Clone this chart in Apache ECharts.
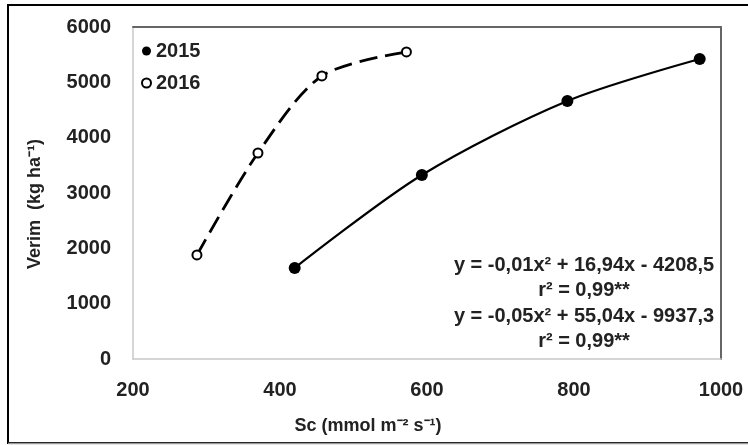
<!DOCTYPE html>
<html>
<head>
<meta charset="utf-8">
<script src="https://cdn.jsdelivr.net/npm/echarts@6/dist/echarts.min.js"></script>
<style>
  html, body { margin: 0; padding: 0; background: #fff; }
  #main { width: 748px; height: 445px; }
</style>
</head>
<body>
<div id="main"></div>
<script>
// valores
var sc2015 = [420, 593, 791, 971];
var verim2015 = [1645, 3325, 4663, 5422];
var sc2016 = [287, 370, 457, 572];
var verim2016 = [1880, 3723, 5115, 5549];
var eqLines = ['y = -0,01x² + 16,94x - 4208,5', 'r² = 0,99**', 'y = -0,05x² + 55,04x - 9937,3', 'r² = 0,99**'];

var fonte = '"Liberation Sans", Arial, sans-serif';

function pares(xs, ys) {
    return xs.map(function (x, i) { return [x, ys[i]]; });
}

var chart = echarts.init(document.getElementById('main'));
chart.setOption({
    backgroundColor: '#fff',
    animation: false,
    grid: { left: 133, right: 27, top: 27, bottom: 86 },
    legend: {
        orient: 'vertical',
        left: 136,
        top: 35,
        itemWidth: 9,
        itemHeight: 9,
        itemGap: 10,
        selectedMode: false,
        textStyle: { fontFamily: fonte, fontWeight: 'bold', fontSize: 20, color: '#222', lineHeight: 22 },
        data: [{ name: '2015', icon: 'circle' }, { name: '2016', icon: 'circle' }]
    },
    xAxis: [{
        type: 'value',
        min: 200, max: 1000, interval: 200,
        name: 'Sc (mmol m⁻² s⁻¹)',
        nameLocation: 'middle',
        nameGap: 58,
        nameTextStyle: { fontFamily: fonte, fontWeight: 'bold', fontSize: 18, color: '#222', padding: [0, 118, 0, 0] },
        axisLine: { lineStyle: { color: '#c8c8c8', width: 1.5 } },
        axisTick: { show: false },
        splitLine: { show: false },
        axisLabel: { fontFamily: fonte, fontWeight: 'bold', fontSize: 20, color: '#222', margin: 21,
            formatter: function (v) { return String(v); } }
    }, {
        type: 'value', position: 'top',
        min: 200, max: 1000,
        axisLine: { show: true, onZero: false, lineStyle: { color: '#666', width: 2 } },
        axisTick: { show: false }, axisLabel: { show: false }, splitLine: { show: false }
    }],
    yAxis: [{
        type: 'value',
        min: 0, max: 6000, interval: 1000,
        axisLine: { show: true, lineStyle: { color: '#c8c8c8', width: 1.5 } },
        axisTick: { show: false },
        splitLine: { show: false },
        axisLabel: { fontFamily: fonte, fontWeight: 'bold', fontSize: 20, color: '#222', margin: 22,
            formatter: function (v) { return String(v); } }
    }, {
        type: 'value', position: 'right',
        min: 0, max: 6000,
        axisLine: { show: true, onZero: false, lineStyle: { color: '#666', width: 2 } },
        axisTick: { show: false }, axisLabel: { show: false }, splitLine: { show: false }
    }],
    series: [{
        name: '2015',
        type: 'line',
        data: pares(sc2015, verim2015),
        smooth: 0.3,
        symbol: 'circle',
        symbolSize: 12,
        itemStyle: { color: '#000' },
        lineStyle: { color: '#000', width: 2.2 },
        z: 3
    }, {
        name: '2016',
        type: 'line',
        data: pares(sc2016, verim2016),
        smooth: 0.3,
        symbol: 'circle',
        symbolSize: 9,
        itemStyle: { color: '#fff', borderColor: '#000', borderWidth: 2 },
        lineStyle: { color: '#000', width: 2.8, type: [18, 8] },
        z: 3
    }],
    graphic: [{
        type: 'rect',
        shape: { x: 8, y: 5, width: 760, height: 438 },
        style: { fill: null, stroke: '#000', lineWidth: 2 },
        z: 100
    }, {
        type: 'line',
        shape: { x1: 8, y1: 443.5, x2: 748, y2: 443.5 },
        style: { stroke: '#999', lineWidth: 1.5 },
        z: 101
    }, {
        type: 'text',
        x: 35,
        y: 204,
        rotation: Math.PI / 2,
        style: {
            text: 'Verim  (kg ha⁻¹)',
            fill: '#222',
            font: 'bold 18px ' + fonte,
            textAlign: 'center',
            textVerticalAlign: 'middle'
        },
        z: 50
    }].concat(eqLines.map(function (t, i) {
        return {
            type: 'text',
            x: 584,
            y: 265 + i * 25.5,
            style: {
                text: t,
                fill: '#222',
                font: 'bold 20px ' + fonte,
                textAlign: 'center',
                textVerticalAlign: 'middle'
            },
            z: 50
        };
    }))
});
</script>
</body>
</html>
